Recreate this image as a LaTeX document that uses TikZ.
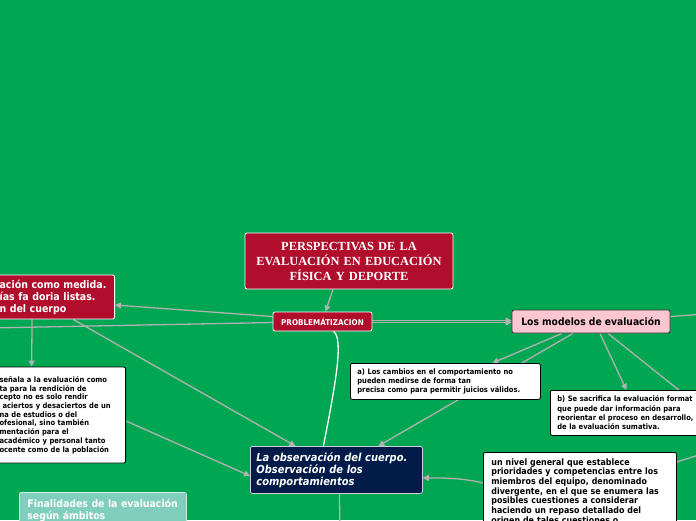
\documentclass[tikz,border=0pt]{standalone}
\usepackage{fontspec}
\setmainfont{DejaVu Sans}
\newfontfamily\titlefont{Liberation Serif}
\newfontfamily\mapfont[FakeStretch=0.9]{DejaVu Sans}
\usetikzlibrary{positioning,arrows.meta}

\definecolor{mapgreen}{RGB}{0,166,81}
\definecolor{mapred}{RGB}{176,14,44}
\definecolor{mapnavy}{RGB}{2,27,72}
\definecolor{mappink}{RGB}{249,198,210}
\definecolor{mapteal}{RGB}{128,206,188}
\definecolor{mapline}{RGB}{178,178,178}

\pgfdeclarelayer{paper}
\pgfdeclarelayer{edges}
\pgfsetlayers{paper,edges,main}

\tikzset{
  topic/.style={rounded corners=2pt,inner sep=4pt,line width=0.8pt},
  redtopic/.style={topic,fill=mapred,draw=white,text=white},
  notebox/.style={topic,fill=white,draw=black,align=left,
    font=\mapfont\bfseries\fontsize{7.5}{8.7}\selectfont},
  link/.style={draw=mapline,line width=1.3pt,-{Triangle[length=6pt,width=6pt]}},
  plainlink/.style={draw=mapline,line width=1.3pt},
}

\begin{document}
\begin{tikzpicture}[x=1pt,y=-1pt]
\begin{pgfonlayer}{paper}
\fill[mapgreen] (0,0) rectangle (696,520);
\end{pgfonlayer}
\useasboundingbox (0,0) rectangle (696,520);

% main topics
\node[redtopic,minimum width=208pt,minimum height=56pt,text width=200pt,align=center,
  font=\titlefont\bfseries\fontsize{12.4}{15}\selectfont] (title) at (349,261)
  {PERSPECTIVAS DE LA\\EVALUACIÓN EN EDUCACIÓN\\FÍSICA Y DEPORTE};
\node[redtopic,minimum width=99pt,minimum height=19pt,font=\mapfont\bfseries\fontsize{8}{9}\selectfont]
  (prob) at (322.5,321.5) {PROBLEMÁTIZACION};
\node[redtopic,anchor=east,text width=111pt,minimum height=44pt,align=left,
  font=\mapfont\bfseries\fontsize{10.5}{12}\selectfont] (medida) at (115,297)
  {ación como medida.\\ías fa doria listas.\\n del cuerpo};
\node[topic,fill=mappink,draw=black!80,minimum width=158pt,minimum height=23pt,
  font=\mapfont\bfseries\fontsize{10.2}{11}\selectfont] (modelos) at (591,321.5)
  {Los modelos de evaluación};
\node[topic,fill=mapnavy,draw=white!80!mapnavy,anchor=north west,text width=160pt,minimum height=47pt,
  text=white,align=left,inner xsep=6pt,font=\mapfont\bfseries\itshape\fontsize{11}{12}\selectfont]
  (cuerpo) at (250,446)
  {La observación del cuerpo.\\Observación de los\\comportamientos};
\node[topic,fill=mapteal,draw=white!60!mapteal,anchor=north west,text width=151pt,
  text=white,align=left,inner xsep=8pt,inner ysep=7pt,font=\mapfont\bfseries\fontsize{10.4}{12}\selectfont]
  (ambitos) at (19,492) {Finalidades de la evaluación\\según ámbitos};

% notes
\node[notebox,anchor=east,text width=122pt,minimum height=96pt] (senala) at (126,415)
  {señala a la evaluación como\\ta para la rendición de\\cepto no es solo rendir\\
   \hspace*{3pt}aciertos y desaciertos de un\\na de estudios o del\\ofesional, sino también\\
   mentación para el\\académico y personal tanto\\ocente como de la población};
\node[notebox,anchor=north west,text width=176pt,minimum height=36pt,inner xsep=7pt] (cambios) at (350,363)
  {a) Los cambios en el comportamiento no\\pueden medirse de forma tan\\
   precisa como para permitir juicios válidos.};
\node[notebox,anchor=north west,text width=150pt,minimum height=45pt,inner xsep=7pt,
  font=\mapfont\bfseries\fontsize{7.5}{9.3}\selectfont] (sacrifica) at (550,390)
  {b) Se sacrifica la evaluación format\\que puede dar información para\\
   reorientar el proceso en desarrollo,\\de la evaluación sumativa.};
\node[notebox,anchor=north west,text width=177pt,inner xsep=8pt,inner ysep=6pt,
  font=\mapfont\bfseries\fontsize{8.8}{9.7}\selectfont] (nivel) at (483,452)
  {un nivel general que establece\\prioridades y competencias entre los\\
   miembros del equipo, denominado\\divergente, en el que se enumera las\\
   posibles cuestiones a considerar\\haciendo un repaso detallado del\\
   origen de tales cuestiones o};

\coordinate (offleft) at (-10,328);
\coordinate (offright) at (705,314);
\coordinate (offdown) at (710,415);
\coordinate (offnivel) at (705,453);
\coordinate (offbottom) at (340,530);

% connectors
\begin{pgfonlayer}{edges}
\draw[link] ([xshift=-16pt]title.south) -- ([xshift=3pt]prob.north);
\draw[link] ([yshift=5pt]prob.west) -- ([yshift=-8pt]medida.east);
\draw[plainlink] ([yshift=-1pt]prob.west) -- (offleft);
\draw[link] ([xshift=-23pt]medida.south) -- ([xshift=-29pt]senala.north);
\draw[link] ([xshift=18pt]medida.south) -- ([xshift=-41pt]cuerpo.north);
\draw[link] ([yshift=-6pt]senala.east) -- ([yshift=-6pt]cuerpo.west);
\draw[link] ([yshift=1pt]prob.east) -- ([yshift=1pt]modelos.west);
\draw[link] ([yshift=-1pt]prob.east) -- ([yshift=-1pt]modelos.west);
\draw[white,line width=1.3pt] ([xshift=11pt]prob.south) .. controls +(10,7) and +(13,-66) .. ([xshift=-13pt]cuerpo.north);
\draw[link] ([xshift=-29pt]modelos.south) -- ([xshift=47pt]cambios.north);
\draw[link] ([xshift=-18pt]modelos.south) -- ([xshift=42pt]cuerpo.north);
\draw[link] ([xshift=9pt]modelos.south) -- ([xshift=-6pt]sacrifica.north);
\draw[plainlink] ([xshift=17pt]modelos.south) -- (offdown);
\draw[plainlink] ([yshift=5pt]modelos.east) -- (offright);
\draw[link] ([yshift=-31pt]nivel.north west) .. controls +(-20,-5) and +(20,0) .. ([yshift=-8pt]cuerpo.east);
\draw[plainlink] ([yshift=-10pt]nivel.north east) -- (offnivel);
\draw[plainlink] ([xshift=3pt]cuerpo.south) -- (offbottom);
\end{pgfonlayer}
\end{tikzpicture}
\end{document}
